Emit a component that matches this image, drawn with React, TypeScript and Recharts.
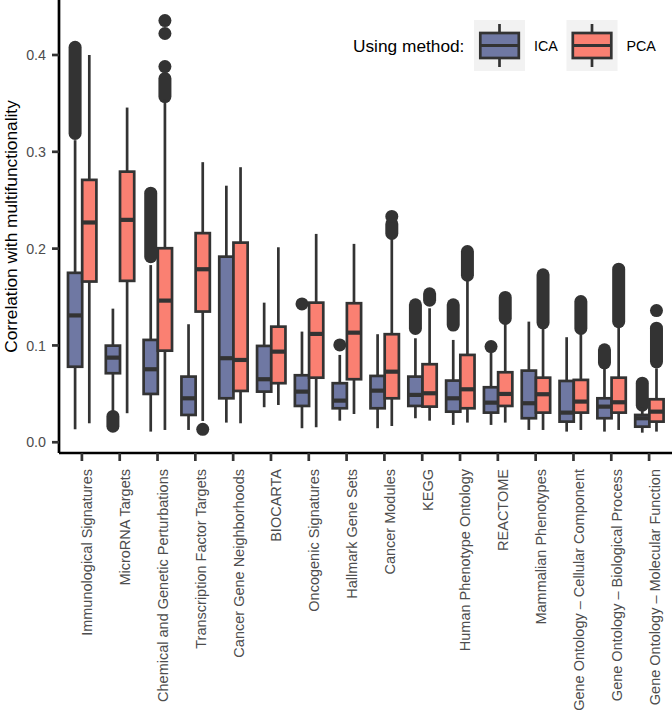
import { ComposedChart, Bar, XAxis, YAxis, Legend } from "recharts";

document.body.style.margin = "0";

const FONT = '"Liberation Sans", Arial, Helvetica, sans-serif';
const INK = "#333333";

const categories = [
  "Immunological Signatures",
  "MicroRNA Targets",
  "Chemical and Genetic Perturbations",
  "Transcription Factor Targets",
  "Cancer Gene Neighborhoods",
  "BIOCARTA",
  "Oncogenic Signatures",
  "Hallmark Gene Sets",
  "Cancer Modules",
  "KEGG",
  "Human Phenotype Ontology",
  "REACTOME",
  "Mammalian Phenotypes",
  "Gene Ontology – Cellular Component",
  "Gene Ontology – Biological Process",
  "Gene Ontology – Molecular Function",
];

const seriesNames = ["ICA", "PCA"];
const seriesColors = ["#6f78a3", "#fa8072"];

// [lower whisker, q1, median, q3, upper whisker]
const icaBoxes = [
  [0.0134, 0.078, 0.131, 0.175, 0.312],
  [0.03, 0.0713, 0.0874, 0.0998, 0.138],
  [0.011, 0.0499, 0.0754, 0.1057, 0.183],
  [0.0127, 0.0282, 0.0454, 0.0678, 0.1219],
  [0.0203, 0.0454, 0.0868, 0.1917, 0.265],
  [0.0362, 0.0523, 0.0651, 0.0995, 0.1442],
  [0.0145, 0.0375, 0.0523, 0.0692, 0.1143],
  [0.0223, 0.0351, 0.043, 0.061, 0.0902],
  [0.0145, 0.0351, 0.0533, 0.0685, 0.1116],
  [0.0248, 0.0375, 0.0489, 0.0678, 0.1074],
  [0.0179, 0.0316, 0.0454, 0.0637, 0.1057],
  [0.0179, 0.0306, 0.0409, 0.0568, 0.0936],
  [0.0127, 0.0248, 0.0403, 0.074, 0.1246],
  [0.011, 0.0213, 0.0306, 0.0633, 0.1085],
  [0.011, 0.0248, 0.0368, 0.0454, 0.0799],
  [0.0099, 0.0161, 0.0248, 0.0282, 0.036],
];

const pcaBoxes = [
  [0.0196, 0.166, 0.227, 0.271, 0.4],
  [0.03, 0.1667, 0.2297, 0.2795, 0.3457],
  [0.0127, 0.0946, 0.1463, 0.2004, 0.3536],
  [0.022, 0.135, 0.1787, 0.216, 0.2893],
  [0.0196, 0.053, 0.085, 0.2062, 0.2841],
  [0.0385, 0.061, 0.0936, 0.1194, 0.2014],
  [0.0155, 0.0667, 0.1119, 0.1442, 0.2152],
  [0.0292, 0.0651, 0.1132, 0.1436, 0.2049],
  [0.0168, 0.0454, 0.0729, 0.1116, 0.21],
  [0.0223, 0.0368, 0.0506, 0.0806, 0.1384],
  [0.0203, 0.0351, 0.0547, 0.0902, 0.1677],
  [0.0203, 0.0375, 0.0499, 0.0723, 0.123],
  [0.0127, 0.0306, 0.0496, 0.0667, 0.1178],
  [0.0127, 0.0306, 0.042, 0.0644, 0.1126],
  [0.0127, 0.0306, 0.0413, 0.0667, 0.1194],
  [0.011, 0.0213, 0.0316, 0.0444, 0.0764],
];

// single outlier points
const icaOutliers = [
  [], [], [], [], [], [], [0.1429], [0.1005], [], [], [], [0.0988], [], [], [], [],
];
const pcaOutliers = [
  [], [], [0.388, 0.4222, 0.4355], [0.0134], [], [], [], [], [0.2333], [], [], [], [], [], [], [0.136],
];

// dense runs of outliers (points overlap into a solid column)
const icaOutlierRuns = [
  [0.319, 0.408], [0.0166, 0.0267], [0.1916, 0.2573], null, null, null, null, null,
  null, [0.1176, 0.142], [0.121, 0.142], null, null, null, [0.082, 0.0955], [0.0383, 0.061],
];
const pcaOutlierRuns = [
  null, null, [0.357, 0.3757], null, null, null, null, null,
  [0.2157, 0.2255], [0.1468, 0.1534], [0.1726, 0.197], [0.1279, 0.1496],
  [0.1234, 0.173], [0.1176, 0.1454], [0.1245, 0.1788], [0.0831, 0.1178],
];

const yTicks = [0, 0.1, 0.2, 0.3, 0.4];

const rows = categories.map((name, i) => ({
  name,
  idx: i,
  ica: [icaBoxes[i][1], icaBoxes[i][3]],
  pca: [pcaBoxes[i][1], pcaBoxes[i][3]],
}));

const makeBoxShape = (boxes, outliers, runs, color) => (props: any) => {
  const { x, y, width, height, payload } = props;
  const i = payload.idx;
  const [lo, q1, med, q3, hi] = boxes[i];
  const top = Math.min(y, y + height);
  const h = Math.abs(height);
  const k = h / (q3 - q1);
  const py = (v: number) => top + (q3 - v) * k;
  const cx = x + width / 2;
  const run = runs[i];
  return (
    <g>
      {run && (
        <line x1={cx} x2={cx} y1={py(run[1])} y2={py(run[0])} stroke={INK} strokeWidth={13} strokeLinecap="round" />
      )}
      {outliers[i].map((v, j) => (
        <circle key={j} cx={cx} cy={py(v)} r={6.5} fill={INK} />
      ))}
      <line x1={cx} x2={cx} y1={py(hi)} y2={py(q3)} stroke={INK} strokeWidth={2.7} />
      <line x1={cx} x2={cx} y1={py(q1)} y2={py(lo)} stroke={INK} strokeWidth={2.7} />
      <rect x={x} y={top} width={width} height={h} fill={color} stroke={INK} strokeWidth={2.7} />
      <line x1={x} x2={x + width} y1={py(med)} y2={py(med)} stroke={INK} strokeWidth={4.2} />
    </g>
  );
};

const icaShape = makeBoxShape(icaBoxes, icaOutliers, icaOutlierRuns, seriesColors[0]);
const pcaShape = makeBoxShape(pcaBoxes, pcaOutliers, pcaOutlierRuns, seriesColors[1]);

const XTick = (props: any) => {
  const { x, payload } = props;
  return (
    <text
      transform={`translate(${x},469) rotate(-90)`}
      x={0}
      y={10.4}
      textAnchor="end"
      fill="#4d4d4d"
      fontSize={14.5}
      fontFamily={FONT}
    >
      {payload.value}
    </text>
  );
};

const YTitle = (props: any) => {
  const vb = props.viewBox || { x: 0, y: 0, width: 59, height: 453 };
  const cy = vb.y + vb.height / 2;
  return (
    <text
      transform={`translate(16.5,${cy}) rotate(-90)`}
      x={0}
      y={0}
      textAnchor="middle"
      fill="#000"
      fontSize={17.3}
      fontFamily={FONT}
    >
      Correlation with multifunctionality
    </text>
  );
};

const LegendKey = ({ left, color }) => {
  const cx = left + 25.5;
  return (
    <g>
      <rect x={left} y={20} width={51} height={51} fill="#f2f2f2" />
      <line x1={cx} x2={cx} y1={24} y2={67} stroke={INK} strokeWidth={2.7} />
      <rect x={left + 6.3} y={33} width={38.5} height={25} fill={color} stroke={INK} strokeWidth={2.7} />
      <line x1={left + 6.3} x2={left + 44.8} y1={45.5} y2={45.5} stroke={INK} strokeWidth={3} />
    </g>
  );
};

const LegendBox = () => (
  <svg width={672} height={90} style={{ position: "absolute", left: 0, top: 0 }}>
    <text x={353} y={46} dominantBaseline="central" fontSize={17.3} fontFamily={FONT} fill="#000">
      Using method:
    </text>
    {seriesNames.map((name, i) => {
      const left = 474 + i * 92.5;
      return (
        <g key={name}>
          <LegendKey left={left} color={seriesColors[i]} />
          <text x={left + 60} y={46} dominantBaseline="central" fontSize={14.3} fontFamily={FONT} fill="#000">
            {name}
          </text>
        </g>
      );
    })}
  </svg>
);

export default function App() {
  return (
    <div style={{ width: 672, height: 712, position: "relative", background: "#fff" }}>
      <ComposedChart
        width={672}
        height={712}
        data={rows}
        margin={{ top: 0, right: 0, bottom: 0, left: 0 }}
        barGap={0}
        barSize={14.2}
      >
        <XAxis
          dataKey="name"
          type="category"
          height={259}
          interval={0}
          padding={{ left: 4, right: 4 }}
          axisLine={{ stroke: "#000", strokeWidth: 2.7 }}
          tickLine={{ stroke: INK, strokeWidth: 2.7 }}
          tickSize={8}
          tickMargin={8}
          tick={<XTick />}
        />
        <YAxis
          type="number"
          width={59}
          domain={[-0.0111, 0.4568]}
          ticks={yTicks}
          allowDataOverflow
          tickFormatter={(v) => v.toFixed(1)}
          axisLine={{ stroke: "#000", strokeWidth: 2.7 }}
          tickLine={{ stroke: INK, strokeWidth: 2.7 }}
          tickSize={7}
          tickMargin={6}
          tick={{ fill: "#4d4d4d", fontSize: 14.3, fontFamily: FONT }}
          label={<YTitle />}
        />
        <Legend
          layout="horizontal"
          verticalAlign="middle"
          align="center"
          content={<LegendBox />}
          wrapperStyle={{ position: "absolute", left: 0, top: 0, width: 672, height: 90 }}
        />
        <Bar dataKey="ica" name="ICA" shape={icaShape} isAnimationActive={false} />
        <Bar dataKey="pca" name="PCA" shape={pcaShape} isAnimationActive={false} />
      </ComposedChart>
    </div>
  );
}
